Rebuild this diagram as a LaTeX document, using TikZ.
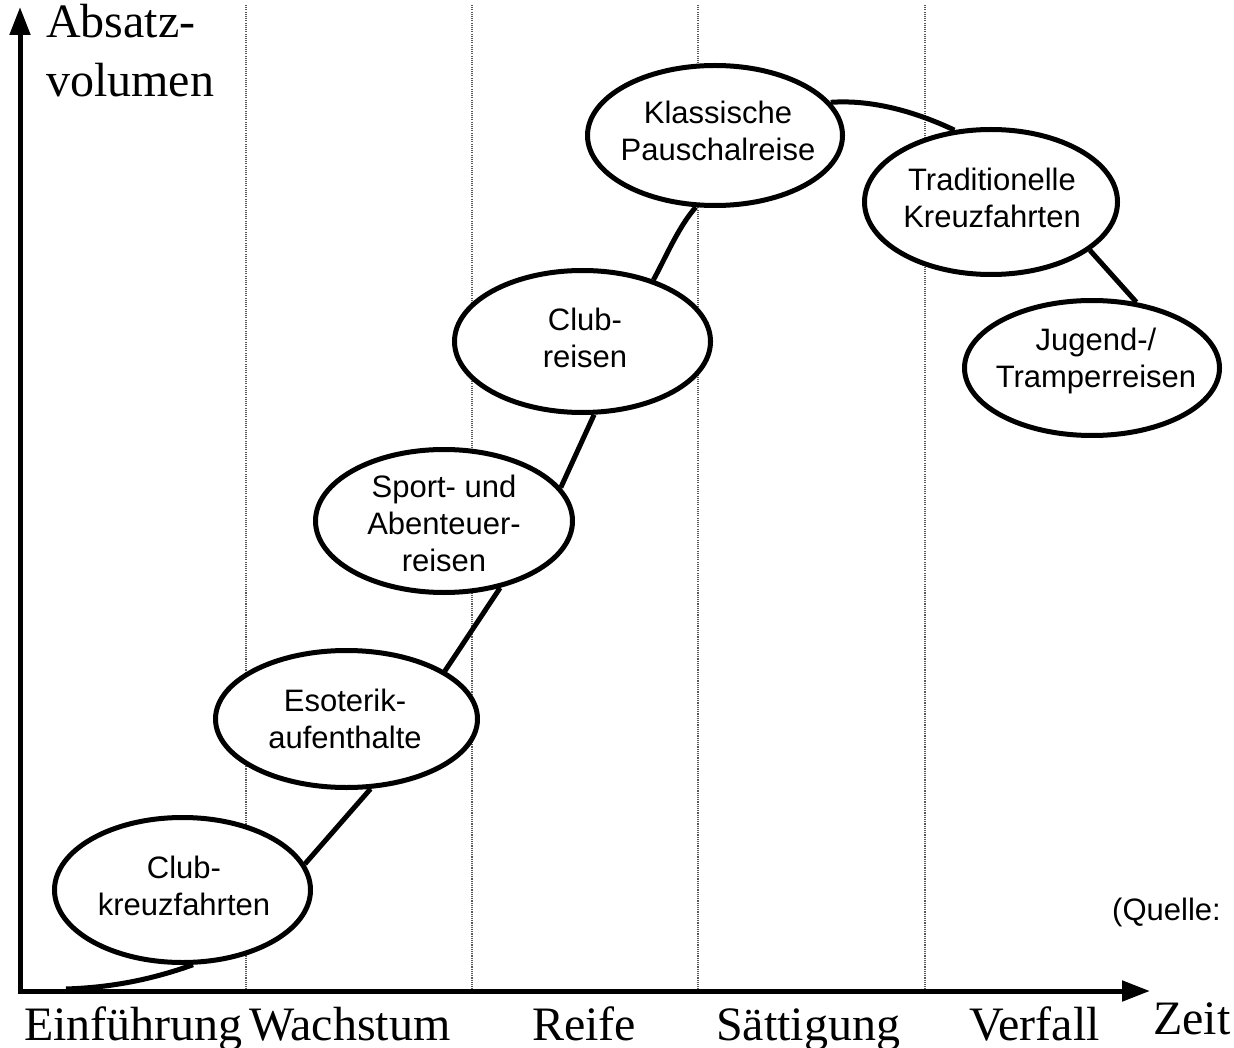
\documentclass[tikz,border=0pt]{standalone}
\usepackage{fontspec}
\setmainfont{Liberation Serif}
\newfontfamily\arialfont{Liberation Sans}
\usetikzlibrary{arrows.meta,shapes.geometric}
\begin{document}
\begin{tikzpicture}[x=1pt,y=-1pt,
  axis/.style={line width=5pt,-{Triangle[length=28pt,width=20pt]}},
  phase/.style={line width=1.1pt,black!65,dash pattern=on 1.1pt off 1.1pt},
  oval/.style={ellipse,draw,fill=white,line width=5pt,inner sep=0pt},
  otext/.style={font=\arialfont\fontsize{31}{37}\selectfont,align=center,inner sep=0pt},
  big/.style={font=\fontsize{48}{59}\selectfont,inner sep=0pt,anchor=base west},
  small/.style={font=\arialfont\fontsize{31}{37}\selectfont,inner sep=0pt,anchor=base west},
  curve/.style={line width=5pt}]

% canvas
\fill[white] (0,0) rectangle (1234,1048);
\useasboundingbox (0,0) rectangle (1234,1048);

% phase separators
\foreach \px [count=\i] in {246,472,698,925} {
  \coordinate (pt\i) at (\px,5);
  \coordinate (pb\i) at (\px,989);
  \draw[phase] (pt\i) -- (pb\i);
}

% axes
\coordinate (yfoot) at (20,993.5);
\coordinate (ytip) at (20,7);
\coordinate (xfoot) at (17.5,991);
\coordinate (xtip) at (1150,991);
\draw[axis] (yfoot) -- (ytip);
\draw[axis] (xfoot) -- (xtip);

% product life cycle positions
\node[oval,minimum width=256pt,minimum height=145pt] (e1) at (182.5,890) {};
\node[oval,minimum width=262pt,minimum height=137pt] (e2) at (346.5,719) {};
\node[oval,minimum width=257pt,minimum height=143pt] (e3) at (444,521) {};
\node[oval,minimum width=256pt,minimum height=142pt] (e4) at (582.5,341.5) {};
\node[oval,minimum width=255pt,minimum height=140pt] (e5) at (715,135.5) {};
\node[oval,minimum width=253pt,minimum height=145pt] (e6) at (991,202) {};
\node[oval,minimum width=255pt,minimum height=135pt] (e7) at (1092,368) {};

\node[otext] (e1t) at (184,886) {Club-\\kreuzfahrten};
\node[otext] (e2t) at (345,719) {Esoterik-\\aufenthalte};
\node[otext] (e3t) at (444,523) {Sport- und\\Abenteuer-\\reisen};
\node[otext] (e4t) at (585,338) {Club-\\reisen};
\node[otext] (e5t) at (718,131) {Klassische\\Pauschalreise};
\node[otext] (e6t) at (992,198) {Traditionelle\\Kreuzfahrten};
\node[otext] (e7t) at (1096,361) {Jugend-/\\Tramperreisen};

% the life cycle curve between the positions
\coordinate (s0) at (66,989);
\draw[curve] (s0) .. controls +(45,-1.5) and +(-42,15) .. (e1.-82.6);
\draw[curve] (e1.12.9) -- (e2.-71);
\draw[curve] (e2.26) -- (e3.-50);
\draw[curve] (e3.16.6) -- (e4.-81);
\draw[curve] (e4.41.5) .. controls +(12,-22) and +(-17,19) .. (e5.-105);
\draw[curve] (e5.16.7) .. controls +(42,-3) and +(-38,-18) .. (e6.117.8);
\draw[curve] (e6.-26.3) -- (e7.56.9);

% axis labels
\node[big] (ya) at (46,38) {Absatz-};
\node[big] (yb) at (46,97) {volumen};
\node[big] (xz) at (1153,1034) {Zeit};
\node[big] (p1) at (24,1040) {Einführung};
\node[big] (p2) at (249,1040) {Wachstum};
\node[big] (p3) at (532,1040) {Reife};
\node[big] (p4) at (716,1040) {Sättigung};
\node[big] (p5) at (969,1040) {Verfall};
\node[small] (src) at (1112,920) {(Quelle:};
\end{tikzpicture}
\end{document}
